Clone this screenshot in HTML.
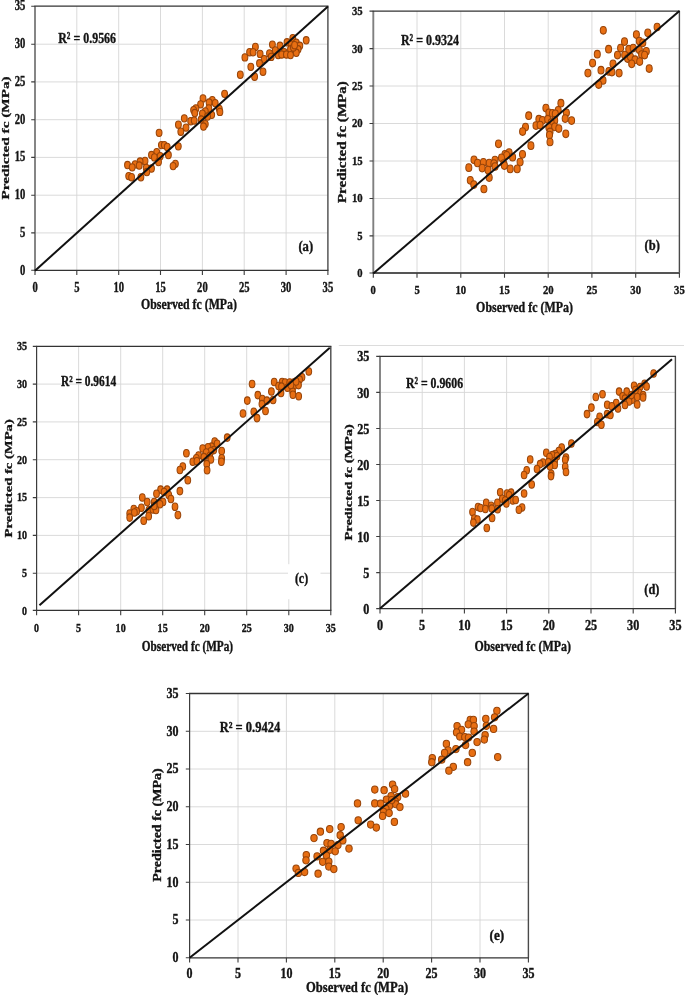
<!DOCTYPE html>
<html><head><meta charset="utf-8"><title>Scatter plots</title>
<style>html,body{margin:0;padding:0;background:#fff}body{width:685px;height:995px;overflow:hidden;font-family:"Liberation Serif",serif}ellipse{fill:#e86f13;stroke:#994408;stroke-width:1.05}text{stroke:#141414;stroke-width:.38px;stroke-linejoin:round}</style></head>
<body>
<svg width="685" height="995" viewBox="0 0 685 995" style="display:block;will-change:transform" font-family="Liberation Serif, serif" font-weight="bold" fill="#141414">
<rect width="685" height="995" fill="#fff"/>
<path d="M338.8 345.5H684" stroke="#dcdcdc" stroke-width="1" fill="none"/>
<g id="plot-a"><path d="M76.8 6.2V270.3M35.0 232.9H327.9M118.7 6.2V270.3M35.0 195.2H327.9M160.5 6.2V270.3M35.0 157.4H327.9M202.4 6.2V270.3M35.0 119.7H327.9M244.2 6.2V270.3M35.0 81.9H327.9M286.1 6.2V270.3M35.0 44.2H327.9" stroke="#d6d6d6" stroke-width="0.9" fill="none"/>
<path d="M35.0 6.2V270.3" stroke="#808080" stroke-width="1.9" fill="none"/>
<path d="M327.9 6.2V270.3" stroke="#4a4a4a" stroke-width="1.4" fill="none"/>
<path d="M34.4 6.2H328.5" stroke="#333" stroke-width="1.3" fill="none"/>
<path d="M34.4 270.3H328.5" stroke="#333" stroke-width="1.3" fill="none"/>
<path d="M35.0 270.3v4.8M35.0 270.3h-3.8M76.8 270.3v4.8M35.0 232.9h-3.8M118.7 270.3v4.8M35.0 195.2h-3.8M160.5 270.3v4.8M35.0 157.4h-3.8M202.4 270.3v4.8M35.0 119.7h-3.8M244.2 270.3v4.8M35.0 81.9h-3.8M286.1 270.3v4.8M35.0 44.2h-3.8M327.9 270.3v4.8M35.0 6.2h-3.8" stroke="#3c3c3c" stroke-width="1.1" fill="none"/>
<text x="32.4" y="291.9" font-size="13.79" textLength="5.3" lengthAdjust="spacingAndGlyphs" text-anchor="start">0</text>
<text x="20.1" y="274.6" font-size="13.79" textLength="5.3" lengthAdjust="spacingAndGlyphs" text-anchor="start">0</text>
<text x="74.2" y="291.9" font-size="13.79" textLength="5.3" lengthAdjust="spacingAndGlyphs" text-anchor="start">5</text>
<text x="20.1" y="236.8" font-size="13.79" textLength="5.3" lengthAdjust="spacingAndGlyphs" text-anchor="start">5</text>
<text x="113.4" y="291.9" font-size="13.79" textLength="10.6" lengthAdjust="spacingAndGlyphs" text-anchor="start">10</text>
<text x="14.8" y="199.0" font-size="13.79" textLength="10.6" lengthAdjust="spacingAndGlyphs" text-anchor="start">10</text>
<text x="155.2" y="291.9" font-size="13.79" textLength="10.6" lengthAdjust="spacingAndGlyphs" text-anchor="start">15</text>
<text x="14.8" y="161.3" font-size="13.79" textLength="10.6" lengthAdjust="spacingAndGlyphs" text-anchor="start">15</text>
<text x="197.1" y="291.9" font-size="13.79" textLength="10.6" lengthAdjust="spacingAndGlyphs" text-anchor="start">20</text>
<text x="14.8" y="123.5" font-size="13.79" textLength="10.6" lengthAdjust="spacingAndGlyphs" text-anchor="start">20</text>
<text x="238.9" y="291.9" font-size="13.79" textLength="10.6" lengthAdjust="spacingAndGlyphs" text-anchor="start">25</text>
<text x="14.8" y="85.8" font-size="13.79" textLength="10.6" lengthAdjust="spacingAndGlyphs" text-anchor="start">25</text>
<text x="280.8" y="291.9" font-size="13.79" textLength="10.6" lengthAdjust="spacingAndGlyphs" text-anchor="start">30</text>
<text x="14.8" y="48.0" font-size="13.79" textLength="10.6" lengthAdjust="spacingAndGlyphs" text-anchor="start">30</text>
<text x="322.6" y="291.9" font-size="13.79" textLength="10.6" lengthAdjust="spacingAndGlyphs" text-anchor="start">35</text>
<text x="14.8" y="10.3" font-size="13.79" textLength="10.6" lengthAdjust="spacingAndGlyphs" text-anchor="start">35</text>
<text x="141.1" y="309.1" font-size="14.5" textLength="95.8" lengthAdjust="spacingAndGlyphs" text-anchor="start">Observed fc (MPa)</text>
<g transform="translate(9.0,199.6) rotate(-90) scale(1,0.72)"><text x="0.0" y="0.0" font-size="15.24" textLength="123.3" lengthAdjust="spacingAndGlyphs" text-anchor="start">Predicted fc (MPa)</text></g>
<text x="58.2" y="42.8" font-size="15.5" textLength="57.9" lengthAdjust="spacingAndGlyphs" text-anchor="start">R² = 0.9566</text>
<text x="298.4" y="250.6" font-size="14.7" textLength="14.7" lengthAdjust="spacingAndGlyphs" text-anchor="start">(a)</text>
<ellipse cx="159.1" cy="132.8" rx="2.9" ry="3.65"/>
<ellipse cx="161.4" cy="145.1" rx="2.9" ry="3.65"/>
<ellipse cx="164.3" cy="145.1" rx="2.9" ry="3.65"/>
<ellipse cx="167.2" cy="146.9" rx="2.9" ry="3.65"/>
<ellipse cx="178.3" cy="146.3" rx="2.9" ry="3.65"/>
<ellipse cx="168.4" cy="155.0" rx="2.9" ry="3.65"/>
<ellipse cx="156.7" cy="152.1" rx="2.9" ry="3.65"/>
<ellipse cx="151.5" cy="155.0" rx="2.9" ry="3.65"/>
<ellipse cx="154.4" cy="157.4" rx="2.9" ry="3.65"/>
<ellipse cx="160.2" cy="156.2" rx="2.9" ry="3.65"/>
<ellipse cx="158.5" cy="162.0" rx="2.9" ry="3.65"/>
<ellipse cx="145.0" cy="160.9" rx="2.9" ry="3.65"/>
<ellipse cx="140.1" cy="161.5" rx="2.9" ry="3.65"/>
<ellipse cx="135.1" cy="164.4" rx="2.9" ry="3.65"/>
<ellipse cx="139.2" cy="165.5" rx="2.9" ry="3.65"/>
<ellipse cx="127.5" cy="165.0" rx="2.9" ry="3.65"/>
<ellipse cx="132.2" cy="167.3" rx="2.9" ry="3.65"/>
<ellipse cx="146.2" cy="167.9" rx="2.9" ry="3.65"/>
<ellipse cx="151.5" cy="168.5" rx="2.9" ry="3.65"/>
<ellipse cx="146.8" cy="172.0" rx="2.9" ry="3.65"/>
<ellipse cx="175.4" cy="163.8" rx="2.9" ry="3.65"/>
<ellipse cx="173.1" cy="166.1" rx="2.9" ry="3.65"/>
<ellipse cx="128.7" cy="176.1" rx="2.9" ry="3.65"/>
<ellipse cx="131.6" cy="177.2" rx="2.9" ry="3.65"/>
<ellipse cx="140.9" cy="177.2" rx="2.9" ry="3.65"/>
<ellipse cx="224.6" cy="93.8" rx="2.9" ry="3.65"/>
<ellipse cx="203.0" cy="98.4" rx="2.9" ry="3.65"/>
<ellipse cx="212.3" cy="100.2" rx="2.9" ry="3.65"/>
<ellipse cx="209.1" cy="102.5" rx="2.9" ry="3.65"/>
<ellipse cx="215.2" cy="103.1" rx="2.9" ry="3.65"/>
<ellipse cx="200.6" cy="104.3" rx="2.9" ry="3.65"/>
<ellipse cx="195.9" cy="108.4" rx="2.9" ry="3.65"/>
<ellipse cx="193.6" cy="110.1" rx="2.9" ry="3.65"/>
<ellipse cx="194.8" cy="113.0" rx="2.9" ry="3.65"/>
<ellipse cx="208.8" cy="108.4" rx="2.9" ry="3.65"/>
<ellipse cx="205.3" cy="111.3" rx="2.9" ry="3.65"/>
<ellipse cx="202.4" cy="113.6" rx="2.9" ry="3.65"/>
<ellipse cx="219.3" cy="108.9" rx="2.9" ry="3.65"/>
<ellipse cx="219.9" cy="111.9" rx="2.9" ry="3.65"/>
<ellipse cx="211.7" cy="114.8" rx="2.9" ry="3.65"/>
<ellipse cx="207.6" cy="116.5" rx="2.9" ry="3.65"/>
<ellipse cx="184.3" cy="118.3" rx="2.9" ry="3.65"/>
<ellipse cx="190.7" cy="121.2" rx="2.9" ry="3.65"/>
<ellipse cx="194.2" cy="120.6" rx="2.9" ry="3.65"/>
<ellipse cx="201.2" cy="119.5" rx="2.9" ry="3.65"/>
<ellipse cx="178.4" cy="124.7" rx="2.9" ry="3.65"/>
<ellipse cx="186.0" cy="127.6" rx="2.9" ry="3.65"/>
<ellipse cx="180.8" cy="131.7" rx="2.9" ry="3.65"/>
<ellipse cx="205.3" cy="124.1" rx="2.9" ry="3.65"/>
<ellipse cx="203.5" cy="126.5" rx="2.9" ry="3.65"/>
<ellipse cx="306.2" cy="40.3" rx="2.9" ry="3.65"/>
<ellipse cx="292.8" cy="38.2" rx="2.9" ry="3.65"/>
<ellipse cx="287.0" cy="42.3" rx="2.9" ry="3.65"/>
<ellipse cx="296.3" cy="42.8" rx="2.9" ry="3.65"/>
<ellipse cx="299.8" cy="45.8" rx="2.9" ry="3.65"/>
<ellipse cx="272.4" cy="44.6" rx="2.9" ry="3.65"/>
<ellipse cx="280.0" cy="45.8" rx="2.9" ry="3.65"/>
<ellipse cx="291.1" cy="44.6" rx="2.9" ry="3.65"/>
<ellipse cx="255.4" cy="46.9" rx="2.9" ry="3.65"/>
<ellipse cx="275.3" cy="50.4" rx="2.9" ry="3.65"/>
<ellipse cx="290.5" cy="49.3" rx="2.9" ry="3.65"/>
<ellipse cx="298.1" cy="49.3" rx="2.9" ry="3.65"/>
<ellipse cx="249.6" cy="52.2" rx="2.9" ry="3.65"/>
<ellipse cx="253.1" cy="52.2" rx="2.9" ry="3.65"/>
<ellipse cx="260.1" cy="53.9" rx="2.9" ry="3.65"/>
<ellipse cx="269.5" cy="53.4" rx="2.9" ry="3.65"/>
<ellipse cx="284.1" cy="52.2" rx="2.9" ry="3.65"/>
<ellipse cx="296.3" cy="52.8" rx="2.9" ry="3.65"/>
<ellipse cx="278.2" cy="55.1" rx="2.9" ry="3.65"/>
<ellipse cx="281.7" cy="54.5" rx="2.9" ry="3.65"/>
<ellipse cx="286.4" cy="54.5" rx="2.9" ry="3.65"/>
<ellipse cx="290.5" cy="55.1" rx="2.9" ry="3.65"/>
<ellipse cx="271.2" cy="56.9" rx="2.9" ry="3.65"/>
<ellipse cx="244.9" cy="57.4" rx="2.9" ry="3.65"/>
<ellipse cx="264.2" cy="59.2" rx="2.9" ry="3.65"/>
<ellipse cx="259.5" cy="63.3" rx="2.9" ry="3.65"/>
<ellipse cx="250.8" cy="66.8" rx="2.9" ry="3.65"/>
<ellipse cx="263.0" cy="71.7" rx="2.9" ry="3.65"/>
<ellipse cx="240.3" cy="74.7" rx="2.9" ry="3.65"/>
<ellipse cx="254.6" cy="76.7" rx="2.9" ry="3.65"/>
<ellipse cx="293.4" cy="47.5" rx="2.9" ry="3.65"/>
<ellipse cx="294.6" cy="45.2" rx="2.9" ry="3.65"/>
<path d="M35.0 270.7L327.9 6.4" stroke="#111" stroke-width="2" fill="none"/></g>
<g id="plot-b"><path d="M417.0 11.1V273.0M373.3 235.9H679.4M460.8 11.1V273.0M373.3 198.5H679.4M504.5 11.1V273.0M373.3 161.0H679.4M548.2 11.1V273.0M373.3 123.5H679.4M591.9 11.1V273.0M373.3 86.0H679.4M635.7 11.1V273.0M373.3 48.6H679.4" stroke="#d6d6d6" stroke-width="0.9" fill="none"/>
<path d="M373.3 11.1V273.0" stroke="#808080" stroke-width="1.9" fill="none"/>
<path d="M679.4 11.1V273.0" stroke="#4a4a4a" stroke-width="1.4" fill="none"/>
<path d="M372.7 11.1H680.0" stroke="#333" stroke-width="1.3" fill="none"/>
<path d="M372.7 273.0H680.0" stroke="#555" stroke-width="2.0" fill="none"/>
<path d="M373.3 273.0v4.8M373.3 273.0h-3.8M417.0 273.0v4.8M373.3 235.9h-3.8M460.8 273.0v4.8M373.3 198.5h-3.8M504.5 273.0v4.8M373.3 161.0h-3.8M548.2 273.0v4.8M373.3 123.5h-3.8M591.9 273.0v4.8M373.3 86.0h-3.8M635.7 273.0v4.8M373.3 48.6h-3.8M679.4 273.0v4.8M373.3 11.1h-3.8" stroke="#3c3c3c" stroke-width="1.1" fill="none"/>
<text x="370.6" y="294.4" font-size="13.3" textLength="5.3" lengthAdjust="spacingAndGlyphs" text-anchor="start">0</text>
<text x="357.2" y="277.3" font-size="13.3" textLength="5.3" lengthAdjust="spacingAndGlyphs" text-anchor="start">0</text>
<text x="414.4" y="294.4" font-size="13.3" textLength="5.3" lengthAdjust="spacingAndGlyphs" text-anchor="start">5</text>
<text x="357.2" y="239.8" font-size="13.3" textLength="5.3" lengthAdjust="spacingAndGlyphs" text-anchor="start">5</text>
<text x="455.4" y="294.4" font-size="13.3" textLength="10.7" lengthAdjust="spacingAndGlyphs" text-anchor="start">10</text>
<text x="351.9" y="202.3" font-size="13.3" textLength="10.7" lengthAdjust="spacingAndGlyphs" text-anchor="start">10</text>
<text x="499.1" y="294.4" font-size="13.3" textLength="10.7" lengthAdjust="spacingAndGlyphs" text-anchor="start">15</text>
<text x="351.9" y="164.9" font-size="13.3" textLength="10.7" lengthAdjust="spacingAndGlyphs" text-anchor="start">15</text>
<text x="542.9" y="294.4" font-size="13.3" textLength="10.7" lengthAdjust="spacingAndGlyphs" text-anchor="start">20</text>
<text x="351.9" y="127.4" font-size="13.3" textLength="10.7" lengthAdjust="spacingAndGlyphs" text-anchor="start">20</text>
<text x="586.6" y="294.4" font-size="13.3" textLength="10.7" lengthAdjust="spacingAndGlyphs" text-anchor="start">25</text>
<text x="351.9" y="89.9" font-size="13.3" textLength="10.7" lengthAdjust="spacingAndGlyphs" text-anchor="start">25</text>
<text x="630.3" y="294.4" font-size="13.3" textLength="10.7" lengthAdjust="spacingAndGlyphs" text-anchor="start">30</text>
<text x="351.9" y="52.5" font-size="13.3" textLength="10.7" lengthAdjust="spacingAndGlyphs" text-anchor="start">30</text>
<text x="674.1" y="294.4" font-size="13.3" textLength="10.7" lengthAdjust="spacingAndGlyphs" text-anchor="start">35</text>
<text x="351.9" y="15.0" font-size="13.3" textLength="10.7" lengthAdjust="spacingAndGlyphs" text-anchor="start">35</text>
<text x="476.1" y="311.8" font-size="14.5" textLength="96.8" lengthAdjust="spacingAndGlyphs" text-anchor="start">Observed fc (MPa)</text>
<g transform="translate(346.2,203.1) rotate(-90) scale(1,0.79)"><text x="0.0" y="0.0" font-size="15.08" textLength="122.0" lengthAdjust="spacingAndGlyphs" text-anchor="start">Predicted fc (MPa)</text></g>
<text x="400.9" y="44.9" font-size="15.5" textLength="58.1" lengthAdjust="spacingAndGlyphs" text-anchor="start">R² = 0.9324</text>
<text x="644.6" y="249.7" font-size="14.7" textLength="15.3" lengthAdjust="spacingAndGlyphs" text-anchor="start">(b)</text>
<ellipse cx="498.5" cy="143.8" rx="3.0" ry="3.85"/>
<ellipse cx="530.9" cy="145.7" rx="3.0" ry="3.85"/>
<ellipse cx="522.5" cy="154.3" rx="3.0" ry="3.85"/>
<ellipse cx="509.1" cy="152.5" rx="3.0" ry="3.85"/>
<ellipse cx="505.0" cy="154.3" rx="3.0" ry="3.85"/>
<ellipse cx="506.7" cy="155.4" rx="3.0" ry="3.85"/>
<ellipse cx="512.6" cy="157.2" rx="3.0" ry="3.85"/>
<ellipse cx="501.5" cy="157.8" rx="3.0" ry="3.85"/>
<ellipse cx="474.0" cy="159.8" rx="3.0" ry="3.85"/>
<ellipse cx="495.0" cy="160.1" rx="3.0" ry="3.85"/>
<ellipse cx="477.5" cy="163.0" rx="3.0" ry="3.85"/>
<ellipse cx="483.4" cy="162.4" rx="3.0" ry="3.85"/>
<ellipse cx="489.2" cy="163.0" rx="3.0" ry="3.85"/>
<ellipse cx="493.9" cy="163.6" rx="3.0" ry="3.85"/>
<ellipse cx="520.1" cy="162.1" rx="3.0" ry="3.85"/>
<ellipse cx="503.8" cy="163.6" rx="3.0" ry="3.85"/>
<ellipse cx="504.4" cy="165.6" rx="3.0" ry="3.85"/>
<ellipse cx="468.8" cy="167.7" rx="3.0" ry="3.85"/>
<ellipse cx="482.2" cy="168.1" rx="3.0" ry="3.85"/>
<ellipse cx="488.0" cy="170.0" rx="3.0" ry="3.85"/>
<ellipse cx="495.0" cy="166.5" rx="3.0" ry="3.85"/>
<ellipse cx="510.2" cy="168.9" rx="3.0" ry="3.85"/>
<ellipse cx="517.2" cy="168.9" rx="3.0" ry="3.85"/>
<ellipse cx="489.2" cy="177.6" rx="3.0" ry="3.85"/>
<ellipse cx="470.3" cy="180.3" rx="3.0" ry="3.85"/>
<ellipse cx="473.8" cy="184.6" rx="3.0" ry="3.85"/>
<ellipse cx="483.9" cy="189.0" rx="3.0" ry="3.85"/>
<ellipse cx="560.9" cy="103.2" rx="3.0" ry="3.85"/>
<ellipse cx="545.9" cy="108.1" rx="3.0" ry="3.85"/>
<ellipse cx="558.2" cy="110.4" rx="3.0" ry="3.85"/>
<ellipse cx="548.9" cy="112.8" rx="3.0" ry="3.85"/>
<ellipse cx="552.4" cy="113.4" rx="3.0" ry="3.85"/>
<ellipse cx="555.3" cy="113.9" rx="3.0" ry="3.85"/>
<ellipse cx="566.4" cy="112.8" rx="3.0" ry="3.85"/>
<ellipse cx="528.7" cy="115.7" rx="3.0" ry="3.85"/>
<ellipse cx="565.2" cy="118.6" rx="3.0" ry="3.85"/>
<ellipse cx="571.6" cy="120.6" rx="3.0" ry="3.85"/>
<ellipse cx="538.9" cy="119.2" rx="3.0" ry="3.85"/>
<ellipse cx="542.4" cy="120.4" rx="3.0" ry="3.85"/>
<ellipse cx="547.7" cy="119.2" rx="3.0" ry="3.85"/>
<ellipse cx="554.7" cy="120.4" rx="3.0" ry="3.85"/>
<ellipse cx="551.2" cy="122.7" rx="3.0" ry="3.85"/>
<ellipse cx="525.5" cy="127.1" rx="3.0" ry="3.85"/>
<ellipse cx="536.0" cy="125.6" rx="3.0" ry="3.85"/>
<ellipse cx="540.1" cy="125.0" rx="3.0" ry="3.85"/>
<ellipse cx="548.9" cy="127.4" rx="3.0" ry="3.85"/>
<ellipse cx="554.7" cy="126.8" rx="3.0" ry="3.85"/>
<ellipse cx="558.8" cy="128.5" rx="3.0" ry="3.85"/>
<ellipse cx="522.6" cy="131.5" rx="3.0" ry="3.85"/>
<ellipse cx="550.0" cy="132.0" rx="3.0" ry="3.85"/>
<ellipse cx="549.5" cy="135.0" rx="3.0" ry="3.85"/>
<ellipse cx="565.8" cy="133.8" rx="3.0" ry="3.85"/>
<ellipse cx="550.0" cy="142.0" rx="3.0" ry="3.85"/>
<ellipse cx="603.3" cy="30.3" rx="3.0" ry="3.85"/>
<ellipse cx="657.1" cy="27.0" rx="3.0" ry="3.85"/>
<ellipse cx="647.8" cy="32.8" rx="3.0" ry="3.85"/>
<ellipse cx="636.4" cy="34.6" rx="3.0" ry="3.85"/>
<ellipse cx="624.5" cy="41.6" rx="3.0" ry="3.85"/>
<ellipse cx="639.3" cy="41.0" rx="3.0" ry="3.85"/>
<ellipse cx="642.8" cy="42.8" rx="3.0" ry="3.85"/>
<ellipse cx="608.6" cy="49.2" rx="3.0" ry="3.85"/>
<ellipse cx="620.6" cy="48.0" rx="3.0" ry="3.85"/>
<ellipse cx="628.8" cy="49.2" rx="3.0" ry="3.85"/>
<ellipse cx="633.2" cy="48.0" rx="3.0" ry="3.85"/>
<ellipse cx="639.3" cy="49.8" rx="3.0" ry="3.85"/>
<ellipse cx="646.3" cy="51.3" rx="3.0" ry="3.85"/>
<ellipse cx="597.3" cy="54.2" rx="3.0" ry="3.85"/>
<ellipse cx="617.5" cy="55.0" rx="3.0" ry="3.85"/>
<ellipse cx="624.7" cy="55.0" rx="3.0" ry="3.85"/>
<ellipse cx="641.6" cy="54.5" rx="3.0" ry="3.85"/>
<ellipse cx="644.6" cy="55.0" rx="3.0" ry="3.85"/>
<ellipse cx="627.6" cy="58.5" rx="3.0" ry="3.85"/>
<ellipse cx="630.5" cy="56.8" rx="3.0" ry="3.85"/>
<ellipse cx="635.0" cy="59.7" rx="3.0" ry="3.85"/>
<ellipse cx="639.7" cy="61.5" rx="3.0" ry="3.85"/>
<ellipse cx="631.7" cy="63.8" rx="3.0" ry="3.85"/>
<ellipse cx="592.6" cy="63.0" rx="3.0" ry="3.85"/>
<ellipse cx="613.0" cy="63.8" rx="3.0" ry="3.85"/>
<ellipse cx="649.2" cy="68.5" rx="3.0" ry="3.85"/>
<ellipse cx="601.0" cy="70.2" rx="3.0" ry="3.85"/>
<ellipse cx="608.9" cy="71.4" rx="3.0" ry="3.85"/>
<ellipse cx="611.9" cy="72.0" rx="3.0" ry="3.85"/>
<ellipse cx="619.1" cy="73.1" rx="3.0" ry="3.85"/>
<ellipse cx="587.9" cy="73.1" rx="3.0" ry="3.85"/>
<ellipse cx="603.0" cy="80.4" rx="3.0" ry="3.85"/>
<ellipse cx="598.7" cy="84.5" rx="3.0" ry="3.85"/>
<path d="M373.3 273.4L679.4 11.1" stroke="#111" stroke-width="2" fill="none"/></g>
<g id="plot-c"><path d="M78.6 346.4V610.4M36.6 573.2H330.8M120.7 346.4V610.4M36.6 535.4H330.8M162.7 346.4V610.4M36.6 497.6H330.8M204.7 346.4V610.4M36.6 459.7H330.8M246.7 346.4V610.4M36.6 421.9H330.8M288.8 346.4V610.4M36.6 384.1H330.8" stroke="#d6d6d6" stroke-width="0.9" fill="none"/>
<rect x="288" y="564.2" width="32.5" height="35" fill="#fff"/>
<path d="M36.6 346.4V610.4" stroke="#3c3c3c" stroke-width="1.2" fill="none"/>
<path d="M330.8 346.4V610.4" stroke="#4a4a4a" stroke-width="1.4" fill="none"/>
<path d="M36.0 346.4H331.4" stroke="#333" stroke-width="1.3" fill="none"/>
<path d="M36.0 610.4H331.4" stroke="#333" stroke-width="1.3" fill="none"/>
<path d="M36.6 610.4v4.8M36.6 610.4h-3.8M78.6 610.4v4.8M36.6 573.2h-3.8M120.7 610.4v4.8M36.6 535.4h-3.8M162.7 610.4v4.8M36.6 497.6h-3.8M204.7 610.4v4.8M36.6 459.7h-3.8M246.7 610.4v4.8M36.6 421.9h-3.8M288.8 610.4v4.8M36.6 384.1h-3.8M330.8 610.4v4.8M36.6 346.4h-3.8" stroke="#3c3c3c" stroke-width="1.1" fill="none"/>
<text x="34.1" y="631.6" font-size="12.9" textLength="5.0" lengthAdjust="spacingAndGlyphs" text-anchor="start">0</text>
<text x="21.9" y="614.8" font-size="12.9" textLength="5.0" lengthAdjust="spacingAndGlyphs" text-anchor="start">0</text>
<text x="76.1" y="631.6" font-size="12.9" textLength="5.0" lengthAdjust="spacingAndGlyphs" text-anchor="start">5</text>
<text x="21.9" y="576.9" font-size="12.9" textLength="5.0" lengthAdjust="spacingAndGlyphs" text-anchor="start">5</text>
<text x="115.6" y="631.6" font-size="12.9" textLength="10.1" lengthAdjust="spacingAndGlyphs" text-anchor="start">10</text>
<text x="16.9" y="539.1" font-size="12.9" textLength="10.1" lengthAdjust="spacingAndGlyphs" text-anchor="start">10</text>
<text x="157.6" y="631.6" font-size="12.9" textLength="10.1" lengthAdjust="spacingAndGlyphs" text-anchor="start">15</text>
<text x="16.9" y="501.3" font-size="12.9" textLength="10.1" lengthAdjust="spacingAndGlyphs" text-anchor="start">15</text>
<text x="199.7" y="631.6" font-size="12.9" textLength="10.1" lengthAdjust="spacingAndGlyphs" text-anchor="start">20</text>
<text x="16.9" y="463.5" font-size="12.9" textLength="10.1" lengthAdjust="spacingAndGlyphs" text-anchor="start">20</text>
<text x="241.7" y="631.6" font-size="12.9" textLength="10.1" lengthAdjust="spacingAndGlyphs" text-anchor="start">25</text>
<text x="16.9" y="425.7" font-size="12.9" textLength="10.1" lengthAdjust="spacingAndGlyphs" text-anchor="start">25</text>
<text x="283.7" y="631.6" font-size="12.9" textLength="10.1" lengthAdjust="spacingAndGlyphs" text-anchor="start">30</text>
<text x="16.9" y="387.9" font-size="12.9" textLength="10.1" lengthAdjust="spacingAndGlyphs" text-anchor="start">30</text>
<text x="325.8" y="631.6" font-size="12.9" textLength="10.1" lengthAdjust="spacingAndGlyphs" text-anchor="start">35</text>
<text x="16.9" y="350.1" font-size="12.9" textLength="10.1" lengthAdjust="spacingAndGlyphs" text-anchor="start">35</text>
<text x="141.8" y="650.9" font-size="13.73" textLength="91.3" lengthAdjust="spacingAndGlyphs" text-anchor="start">Observed fc (MPa)</text>
<g transform="translate(11.6,537.5) rotate(-90) scale(1,0.75)"><text x="0.0" y="0.0" font-size="14.62" textLength="118.3" lengthAdjust="spacingAndGlyphs" text-anchor="start">Predicted fc (MPa)</text></g>
<text x="60.9" y="386.4" font-size="14.99" textLength="55.3" lengthAdjust="spacingAndGlyphs" text-anchor="start">R² = 0.9614</text>
<text x="294.9" y="582.8" font-size="14.01" textLength="13.2" lengthAdjust="spacingAndGlyphs" text-anchor="start">(c)</text>
<ellipse cx="187.8" cy="480.3" rx="2.85" ry="3.75"/>
<ellipse cx="179.9" cy="491.1" rx="2.85" ry="3.75"/>
<ellipse cx="160.6" cy="489.6" rx="2.85" ry="3.75"/>
<ellipse cx="167.1" cy="489.6" rx="2.85" ry="3.75"/>
<ellipse cx="164.1" cy="491.9" rx="2.85" ry="3.75"/>
<ellipse cx="156.5" cy="493.7" rx="2.85" ry="3.75"/>
<ellipse cx="168.8" cy="494.9" rx="2.85" ry="3.75"/>
<ellipse cx="170.9" cy="498.9" rx="2.85" ry="3.75"/>
<ellipse cx="142.3" cy="497.4" rx="2.85" ry="3.75"/>
<ellipse cx="147.2" cy="501.9" rx="2.85" ry="3.75"/>
<ellipse cx="154.2" cy="501.9" rx="2.85" ry="3.75"/>
<ellipse cx="163.0" cy="501.9" rx="2.85" ry="3.75"/>
<ellipse cx="160.0" cy="504.2" rx="2.85" ry="3.75"/>
<ellipse cx="175.0" cy="506.8" rx="2.85" ry="3.75"/>
<ellipse cx="141.4" cy="507.7" rx="2.85" ry="3.75"/>
<ellipse cx="133.8" cy="508.9" rx="2.85" ry="3.75"/>
<ellipse cx="136.7" cy="511.2" rx="2.85" ry="3.75"/>
<ellipse cx="148.9" cy="510.0" rx="2.85" ry="3.75"/>
<ellipse cx="153.0" cy="509.5" rx="2.85" ry="3.75"/>
<ellipse cx="156.0" cy="510.0" rx="2.85" ry="3.75"/>
<ellipse cx="129.7" cy="513.5" rx="2.85" ry="3.75"/>
<ellipse cx="134.4" cy="512.4" rx="2.85" ry="3.75"/>
<ellipse cx="129.7" cy="517.6" rx="2.85" ry="3.75"/>
<ellipse cx="148.7" cy="516.2" rx="2.85" ry="3.75"/>
<ellipse cx="177.9" cy="515.1" rx="2.85" ry="3.75"/>
<ellipse cx="143.7" cy="520.8" rx="2.85" ry="3.75"/>
<ellipse cx="154.2" cy="505.9" rx="2.85" ry="3.75"/>
<ellipse cx="227.2" cy="437.6" rx="2.85" ry="3.75"/>
<ellipse cx="214.7" cy="441.4" rx="2.85" ry="3.75"/>
<ellipse cx="217.1" cy="443.7" rx="2.85" ry="3.75"/>
<ellipse cx="211.5" cy="446.6" rx="2.85" ry="3.75"/>
<ellipse cx="208.0" cy="447.2" rx="2.85" ry="3.75"/>
<ellipse cx="202.7" cy="448.4" rx="2.85" ry="3.75"/>
<ellipse cx="213.8" cy="450.1" rx="2.85" ry="3.75"/>
<ellipse cx="210.9" cy="451.3" rx="2.85" ry="3.75"/>
<ellipse cx="221.7" cy="450.9" rx="2.85" ry="3.75"/>
<ellipse cx="186.4" cy="453.3" rx="2.85" ry="3.75"/>
<ellipse cx="206.2" cy="452.4" rx="2.85" ry="3.75"/>
<ellipse cx="198.6" cy="455.4" rx="2.85" ry="3.75"/>
<ellipse cx="196.3" cy="458.3" rx="2.85" ry="3.75"/>
<ellipse cx="203.9" cy="457.1" rx="2.85" ry="3.75"/>
<ellipse cx="209.7" cy="455.9" rx="2.85" ry="3.75"/>
<ellipse cx="221.7" cy="458.3" rx="2.85" ry="3.75"/>
<ellipse cx="192.8" cy="461.8" rx="2.85" ry="3.75"/>
<ellipse cx="210.9" cy="459.5" rx="2.85" ry="3.75"/>
<ellipse cx="221.4" cy="461.8" rx="2.85" ry="3.75"/>
<ellipse cx="206.8" cy="464.1" rx="2.85" ry="3.75"/>
<ellipse cx="182.8" cy="466.5" rx="2.85" ry="3.75"/>
<ellipse cx="179.9" cy="470.0" rx="2.85" ry="3.75"/>
<ellipse cx="207.1" cy="470.3" rx="2.85" ry="3.75"/>
<ellipse cx="196.9" cy="461.2" rx="2.85" ry="3.75"/>
<ellipse cx="308.8" cy="371.4" rx="2.85" ry="3.75"/>
<ellipse cx="302.0" cy="377.3" rx="2.85" ry="3.75"/>
<ellipse cx="299.6" cy="379.6" rx="2.85" ry="3.75"/>
<ellipse cx="274.2" cy="381.9" rx="2.85" ry="3.75"/>
<ellipse cx="282.1" cy="381.9" rx="2.85" ry="3.75"/>
<ellipse cx="285.1" cy="382.5" rx="2.85" ry="3.75"/>
<ellipse cx="289.7" cy="382.5" rx="2.85" ry="3.75"/>
<ellipse cx="293.8" cy="382.5" rx="2.85" ry="3.75"/>
<ellipse cx="252.1" cy="384.0" rx="2.85" ry="3.75"/>
<ellipse cx="278.6" cy="386.0" rx="2.85" ry="3.75"/>
<ellipse cx="281.5" cy="386.6" rx="2.85" ry="3.75"/>
<ellipse cx="287.4" cy="387.8" rx="2.85" ry="3.75"/>
<ellipse cx="293.8" cy="386.0" rx="2.85" ry="3.75"/>
<ellipse cx="298.5" cy="385.1" rx="2.85" ry="3.75"/>
<ellipse cx="271.4" cy="391.5" rx="2.85" ry="3.75"/>
<ellipse cx="281.0" cy="393.0" rx="2.85" ry="3.75"/>
<ellipse cx="292.6" cy="391.6" rx="2.85" ry="3.75"/>
<ellipse cx="292.9" cy="394.8" rx="2.85" ry="3.75"/>
<ellipse cx="298.7" cy="396.3" rx="2.85" ry="3.75"/>
<ellipse cx="257.8" cy="395.1" rx="2.85" ry="3.75"/>
<ellipse cx="262.3" cy="398.9" rx="2.85" ry="3.75"/>
<ellipse cx="266.9" cy="400.6" rx="2.85" ry="3.75"/>
<ellipse cx="273.1" cy="400.0" rx="2.85" ry="3.75"/>
<ellipse cx="247.3" cy="400.6" rx="2.85" ry="3.75"/>
<ellipse cx="261.9" cy="404.1" rx="2.85" ry="3.75"/>
<ellipse cx="265.5" cy="410.9" rx="2.85" ry="3.75"/>
<ellipse cx="253.8" cy="411.7" rx="2.85" ry="3.75"/>
<ellipse cx="243.0" cy="413.5" rx="2.85" ry="3.75"/>
<ellipse cx="257.0" cy="418.1" rx="2.85" ry="3.75"/>
<ellipse cx="296.1" cy="381.4" rx="2.85" ry="3.75"/>
<ellipse cx="290.9" cy="384.9" rx="2.85" ry="3.75"/>
<path d="M39.5 605.3L329.8 347.8" stroke="#111" stroke-width="2" fill="none"/></g>
<g id="plot-d"><path d="M422.2 356.4V608.6M380.0 572.6H675.4M464.4 356.4V608.6M380.0 536.5H675.4M506.6 356.4V608.6M380.0 500.5H675.4M548.8 356.4V608.6M380.0 464.5H675.4M591.0 356.4V608.6M380.0 428.5H675.4M633.2 356.4V608.6M380.0 392.4H675.4" stroke="#d6d6d6" stroke-width="0.9" fill="none"/>
<path d="M380.0 356.4V608.6" stroke="#808080" stroke-width="1.9" fill="none"/>
<path d="M675.4 356.4V608.6" stroke="#4a4a4a" stroke-width="1.4" fill="none"/>
<path d="M379.4 356.4H676.0" stroke="#333" stroke-width="1.3" fill="none"/>
<path d="M379.4 608.6H676.0" stroke="#333" stroke-width="1.3" fill="none"/>
<path d="M380.0 608.6v4.8M380.0 608.6h-3.8M422.2 608.6v4.8M380.0 572.6h-3.8M464.4 608.6v4.8M380.0 536.5h-3.8M506.6 608.6v4.8M380.0 500.5h-3.8M548.8 608.6v4.8M380.0 464.5h-3.8M591.0 608.6v4.8M380.0 428.5h-3.8M633.2 608.6v4.8M380.0 392.4h-3.8M675.4 608.6v4.8M380.0 356.4h-3.8" stroke="#3c3c3c" stroke-width="1.1" fill="none"/>
<text x="376.9" y="630.1" font-size="14.09" textLength="6.1" lengthAdjust="spacingAndGlyphs" text-anchor="start">0</text>
<text x="363.3" y="613.6" font-size="14.09" textLength="6.1" lengthAdjust="spacingAndGlyphs" text-anchor="start">0</text>
<text x="419.1" y="630.1" font-size="14.09" textLength="6.1" lengthAdjust="spacingAndGlyphs" text-anchor="start">5</text>
<text x="363.3" y="577.6" font-size="14.09" textLength="6.1" lengthAdjust="spacingAndGlyphs" text-anchor="start">5</text>
<text x="458.3" y="630.1" font-size="14.09" textLength="12.2" lengthAdjust="spacingAndGlyphs" text-anchor="start">10</text>
<text x="357.2" y="541.6" font-size="14.09" textLength="12.2" lengthAdjust="spacingAndGlyphs" text-anchor="start">10</text>
<text x="500.5" y="630.1" font-size="14.09" textLength="12.2" lengthAdjust="spacingAndGlyphs" text-anchor="start">15</text>
<text x="357.2" y="505.6" font-size="14.09" textLength="12.2" lengthAdjust="spacingAndGlyphs" text-anchor="start">15</text>
<text x="542.7" y="630.1" font-size="14.09" textLength="12.2" lengthAdjust="spacingAndGlyphs" text-anchor="start">20</text>
<text x="357.2" y="469.5" font-size="14.09" textLength="12.2" lengthAdjust="spacingAndGlyphs" text-anchor="start">20</text>
<text x="584.9" y="630.1" font-size="14.09" textLength="12.2" lengthAdjust="spacingAndGlyphs" text-anchor="start">25</text>
<text x="357.2" y="433.5" font-size="14.09" textLength="12.2" lengthAdjust="spacingAndGlyphs" text-anchor="start">25</text>
<text x="627.1" y="630.1" font-size="14.09" textLength="12.2" lengthAdjust="spacingAndGlyphs" text-anchor="start">30</text>
<text x="357.2" y="397.5" font-size="14.09" textLength="12.2" lengthAdjust="spacingAndGlyphs" text-anchor="start">30</text>
<text x="669.3" y="630.1" font-size="14.09" textLength="12.2" lengthAdjust="spacingAndGlyphs" text-anchor="start">35</text>
<text x="357.2" y="361.4" font-size="14.09" textLength="12.2" lengthAdjust="spacingAndGlyphs" text-anchor="start">35</text>
<text x="474.5" y="651.0" font-size="13.73" textLength="96.4" lengthAdjust="spacingAndGlyphs" text-anchor="start">Observed fc (MPa)</text>
<g transform="translate(351.6,540.4) rotate(-90) scale(1,0.76)"><text x="0.0" y="0.0" font-size="14.37" textLength="116.2" lengthAdjust="spacingAndGlyphs" text-anchor="start">Predicted fc (MPa)</text></g>
<text x="405.9" y="388.2" font-size="15.3" textLength="57.2" lengthAdjust="spacingAndGlyphs" text-anchor="start">R² = 0.9606</text>
<text x="644.3" y="593.7" font-size="14.5" textLength="15.1" lengthAdjust="spacingAndGlyphs" text-anchor="start">(d)</text>
<ellipse cx="531.7" cy="484.4" rx="2.8" ry="3.75"/>
<ellipse cx="524.1" cy="493.4" rx="2.8" ry="3.75"/>
<ellipse cx="500.2" cy="492.3" rx="2.8" ry="3.75"/>
<ellipse cx="507.0" cy="493.4" rx="2.8" ry="3.75"/>
<ellipse cx="511.1" cy="492.6" rx="2.8" ry="3.75"/>
<ellipse cx="509.1" cy="495.2" rx="2.8" ry="3.75"/>
<ellipse cx="502.3" cy="498.7" rx="2.8" ry="3.75"/>
<ellipse cx="505.2" cy="500.4" rx="2.8" ry="3.75"/>
<ellipse cx="512.8" cy="500.4" rx="2.8" ry="3.75"/>
<ellipse cx="515.7" cy="499.9" rx="2.8" ry="3.75"/>
<ellipse cx="486.2" cy="502.8" rx="2.8" ry="3.75"/>
<ellipse cx="497.4" cy="502.8" rx="2.8" ry="3.75"/>
<ellipse cx="506.4" cy="503.4" rx="2.8" ry="3.75"/>
<ellipse cx="491.2" cy="505.7" rx="2.8" ry="3.75"/>
<ellipse cx="478.0" cy="506.9" rx="2.8" ry="3.75"/>
<ellipse cx="480.5" cy="508.0" rx="2.8" ry="3.75"/>
<ellipse cx="485.4" cy="509.0" rx="2.8" ry="3.75"/>
<ellipse cx="491.8" cy="508.6" rx="2.8" ry="3.75"/>
<ellipse cx="497.6" cy="509.2" rx="2.8" ry="3.75"/>
<ellipse cx="522.1" cy="507.4" rx="2.8" ry="3.75"/>
<ellipse cx="518.9" cy="509.8" rx="2.8" ry="3.75"/>
<ellipse cx="472.5" cy="512.1" rx="2.8" ry="3.75"/>
<ellipse cx="492.1" cy="518.0" rx="2.8" ry="3.75"/>
<ellipse cx="474.3" cy="518.5" rx="2.8" ry="3.75"/>
<ellipse cx="477.4" cy="519.5" rx="2.8" ry="3.75"/>
<ellipse cx="473.4" cy="522.6" rx="2.8" ry="3.75"/>
<ellipse cx="486.8" cy="527.9" rx="2.8" ry="3.75"/>
<ellipse cx="571.4" cy="443.4" rx="2.8" ry="3.75"/>
<ellipse cx="561.7" cy="447.5" rx="2.8" ry="3.75"/>
<ellipse cx="558.8" cy="451.0" rx="2.8" ry="3.75"/>
<ellipse cx="555.3" cy="453.9" rx="2.8" ry="3.75"/>
<ellipse cx="546.3" cy="452.8" rx="2.8" ry="3.75"/>
<ellipse cx="552.4" cy="455.1" rx="2.8" ry="3.75"/>
<ellipse cx="549.5" cy="456.9" rx="2.8" ry="3.75"/>
<ellipse cx="557.0" cy="456.3" rx="2.8" ry="3.75"/>
<ellipse cx="566.0" cy="457.4" rx="2.8" ry="3.75"/>
<ellipse cx="530.2" cy="459.5" rx="2.8" ry="3.75"/>
<ellipse cx="565.2" cy="459.8" rx="2.8" ry="3.75"/>
<ellipse cx="543.0" cy="462.5" rx="2.8" ry="3.75"/>
<ellipse cx="540.1" cy="464.1" rx="2.8" ry="3.75"/>
<ellipse cx="548.3" cy="462.1" rx="2.8" ry="3.75"/>
<ellipse cx="554.7" cy="460.9" rx="2.8" ry="3.75"/>
<ellipse cx="554.7" cy="465.0" rx="2.8" ry="3.75"/>
<ellipse cx="550.0" cy="466.2" rx="2.8" ry="3.75"/>
<ellipse cx="565.2" cy="466.8" rx="2.8" ry="3.75"/>
<ellipse cx="537.0" cy="468.9" rx="2.8" ry="3.75"/>
<ellipse cx="526.7" cy="470.3" rx="2.8" ry="3.75"/>
<ellipse cx="566.0" cy="472.0" rx="2.8" ry="3.75"/>
<ellipse cx="524.1" cy="475.0" rx="2.8" ry="3.75"/>
<ellipse cx="551.2" cy="473.8" rx="2.8" ry="3.75"/>
<ellipse cx="551.0" cy="476.1" rx="2.8" ry="3.75"/>
<ellipse cx="653.6" cy="373.5" rx="2.8" ry="3.75"/>
<ellipse cx="644.6" cy="383.8" rx="2.8" ry="3.75"/>
<ellipse cx="634.1" cy="385.8" rx="2.8" ry="3.75"/>
<ellipse cx="640.1" cy="386.9" rx="2.8" ry="3.75"/>
<ellipse cx="646.6" cy="386.4" rx="2.8" ry="3.75"/>
<ellipse cx="619.1" cy="391.6" rx="2.8" ry="3.75"/>
<ellipse cx="626.7" cy="391.6" rx="2.8" ry="3.75"/>
<ellipse cx="602.5" cy="394.3" rx="2.8" ry="3.75"/>
<ellipse cx="639.0" cy="392.8" rx="2.8" ry="3.75"/>
<ellipse cx="643.1" cy="395.1" rx="2.8" ry="3.75"/>
<ellipse cx="595.8" cy="396.9" rx="2.8" ry="3.75"/>
<ellipse cx="622.6" cy="396.3" rx="2.8" ry="3.75"/>
<ellipse cx="625.0" cy="398.6" rx="2.8" ry="3.75"/>
<ellipse cx="637.2" cy="396.9" rx="2.8" ry="3.75"/>
<ellipse cx="643.1" cy="397.4" rx="2.8" ry="3.75"/>
<ellipse cx="632.0" cy="399.8" rx="2.8" ry="3.75"/>
<ellipse cx="629.1" cy="401.5" rx="2.8" ry="3.75"/>
<ellipse cx="616.2" cy="402.9" rx="2.8" ry="3.75"/>
<ellipse cx="607.2" cy="404.8" rx="2.8" ry="3.75"/>
<ellipse cx="611.8" cy="406.2" rx="2.8" ry="3.75"/>
<ellipse cx="625.0" cy="405.0" rx="2.8" ry="3.75"/>
<ellipse cx="637.2" cy="404.5" rx="2.8" ry="3.75"/>
<ellipse cx="591.4" cy="407.6" rx="2.8" ry="3.75"/>
<ellipse cx="618.0" cy="408.5" rx="2.8" ry="3.75"/>
<ellipse cx="587.0" cy="414.1" rx="2.8" ry="3.75"/>
<ellipse cx="607.1" cy="414.1" rx="2.8" ry="3.75"/>
<ellipse cx="610.4" cy="415.0" rx="2.8" ry="3.75"/>
<ellipse cx="599.6" cy="416.7" rx="2.8" ry="3.75"/>
<ellipse cx="597.3" cy="422.0" rx="2.8" ry="3.75"/>
<ellipse cx="601.4" cy="424.7" rx="2.8" ry="3.75"/>
<ellipse cx="635.5" cy="389.9" rx="2.8" ry="3.75"/>
<ellipse cx="631.4" cy="395.1" rx="2.8" ry="3.75"/>
<path d="M380.0 608.6L672.0 359.3" stroke="#111" stroke-width="2" fill="none"/></g>
<g id="plot-e"><path d="M238.0 693.5V957.8M189.6 920.0H528.4M286.4 693.5V957.8M189.6 882.3H528.4M334.8 693.5V957.8M189.6 844.5H528.4M383.2 693.5V957.8M189.6 806.8H528.4M431.6 693.5V957.8M189.6 769.0H528.4M480.0 693.5V957.8M189.6 731.3H528.4" stroke="#d6d6d6" stroke-width="0.9" fill="none"/>
<path d="M189.6 693.5V957.8" stroke="#3c3c3c" stroke-width="1.2" fill="none"/>
<path d="M528.4 693.5V957.8" stroke="#4a4a4a" stroke-width="1.4" fill="none"/>
<path d="M189.0 693.5H529.0" stroke="#333" stroke-width="1.3" fill="none"/>
<path d="M189.0 957.8H529.0" stroke="#333" stroke-width="1.3" fill="none"/>
<path d="M189.6 957.8v4.8M189.6 957.8h-3.8M238.0 957.8v4.8M189.6 920.0h-3.8M286.4 957.8v4.8M189.6 882.3h-3.8M334.8 957.8v4.8M189.6 844.5h-3.8M383.2 957.8v4.8M189.6 806.8h-3.8M431.6 957.8v4.8M189.6 769.0h-3.8M480.0 957.8v4.8M189.6 731.3h-3.8M528.4 957.8v4.8M189.6 693.5h-3.8" stroke="#3c3c3c" stroke-width="1.1" fill="none"/>
<text x="186.6" y="977.9" font-size="14.09" textLength="6.0" lengthAdjust="spacingAndGlyphs" text-anchor="start">0</text>
<text x="172.5" y="962.0" font-size="14.09" textLength="6.0" lengthAdjust="spacingAndGlyphs" text-anchor="start">0</text>
<text x="235.0" y="977.9" font-size="14.09" textLength="6.0" lengthAdjust="spacingAndGlyphs" text-anchor="start">5</text>
<text x="172.5" y="924.3" font-size="14.09" textLength="6.0" lengthAdjust="spacingAndGlyphs" text-anchor="start">5</text>
<text x="280.4" y="977.9" font-size="14.09" textLength="12.0" lengthAdjust="spacingAndGlyphs" text-anchor="start">10</text>
<text x="166.5" y="886.5" font-size="14.09" textLength="12.0" lengthAdjust="spacingAndGlyphs" text-anchor="start">10</text>
<text x="328.8" y="977.9" font-size="14.09" textLength="12.0" lengthAdjust="spacingAndGlyphs" text-anchor="start">15</text>
<text x="166.5" y="848.8" font-size="14.09" textLength="12.0" lengthAdjust="spacingAndGlyphs" text-anchor="start">15</text>
<text x="377.2" y="977.9" font-size="14.09" textLength="12.0" lengthAdjust="spacingAndGlyphs" text-anchor="start">20</text>
<text x="166.5" y="811.0" font-size="14.09" textLength="12.0" lengthAdjust="spacingAndGlyphs" text-anchor="start">20</text>
<text x="425.6" y="977.9" font-size="14.09" textLength="12.0" lengthAdjust="spacingAndGlyphs" text-anchor="start">25</text>
<text x="166.5" y="773.3" font-size="14.09" textLength="12.0" lengthAdjust="spacingAndGlyphs" text-anchor="start">25</text>
<text x="474.0" y="977.9" font-size="14.09" textLength="12.0" lengthAdjust="spacingAndGlyphs" text-anchor="start">30</text>
<text x="166.5" y="735.5" font-size="14.09" textLength="12.0" lengthAdjust="spacingAndGlyphs" text-anchor="start">30</text>
<text x="522.4" y="977.9" font-size="14.09" textLength="12.0" lengthAdjust="spacingAndGlyphs" text-anchor="start">35</text>
<text x="166.5" y="697.7" font-size="14.09" textLength="12.0" lengthAdjust="spacingAndGlyphs" text-anchor="start">35</text>
<text x="306.0" y="991.7" font-size="14.41" textLength="102.2" lengthAdjust="spacingAndGlyphs" text-anchor="start">Observed fc (MPa)</text>
<g transform="translate(160.6,881.7) rotate(-90) scale(1,0.87)"><text x="0.0" y="0.0" font-size="14.02" textLength="113.4" lengthAdjust="spacingAndGlyphs" text-anchor="start">Predicted fc (MPa)</text></g>
<text x="219.7" y="731.5" font-size="14.48" textLength="60.5" lengthAdjust="spacingAndGlyphs" text-anchor="start">R² = 0.9424</text>
<text x="489.5" y="939.7" font-size="14.21" textLength="14.7" lengthAdjust="spacingAndGlyphs" text-anchor="start">(e)</text>
<ellipse cx="341.1" cy="827.0" rx="3.2" ry="3.6"/>
<ellipse cx="329.7" cy="829.1" rx="3.2" ry="3.6"/>
<ellipse cx="320.4" cy="831.7" rx="3.2" ry="3.6"/>
<ellipse cx="340.2" cy="835.2" rx="3.2" ry="3.6"/>
<ellipse cx="314.0" cy="838.1" rx="3.2" ry="3.6"/>
<ellipse cx="342.8" cy="840.4" rx="3.2" ry="3.6"/>
<ellipse cx="327.0" cy="843.1" rx="3.2" ry="3.6"/>
<ellipse cx="331.1" cy="843.9" rx="3.2" ry="3.6"/>
<ellipse cx="337.9" cy="845.1" rx="3.2" ry="3.6"/>
<ellipse cx="349.0" cy="848.6" rx="3.2" ry="3.6"/>
<ellipse cx="323.5" cy="850.7" rx="3.2" ry="3.6"/>
<ellipse cx="330.0" cy="849.8" rx="3.2" ry="3.6"/>
<ellipse cx="335.2" cy="851.3" rx="3.2" ry="3.6"/>
<ellipse cx="306.3" cy="855.0" rx="3.2" ry="3.6"/>
<ellipse cx="317.1" cy="856.4" rx="3.2" ry="3.6"/>
<ellipse cx="326.5" cy="855.6" rx="3.2" ry="3.6"/>
<ellipse cx="306.0" cy="860.3" rx="3.2" ry="3.6"/>
<ellipse cx="322.7" cy="861.8" rx="3.2" ry="3.6"/>
<ellipse cx="328.8" cy="861.5" rx="3.2" ry="3.6"/>
<ellipse cx="328.8" cy="866.5" rx="3.2" ry="3.6"/>
<ellipse cx="296.1" cy="868.5" rx="3.2" ry="3.6"/>
<ellipse cx="333.8" cy="869.1" rx="3.2" ry="3.6"/>
<ellipse cx="304.6" cy="872.0" rx="3.2" ry="3.6"/>
<ellipse cx="298.4" cy="872.9" rx="3.2" ry="3.6"/>
<ellipse cx="318.1" cy="873.7" rx="3.2" ry="3.6"/>
<ellipse cx="392.6" cy="784.6" rx="3.2" ry="3.6"/>
<ellipse cx="394.6" cy="789.0" rx="3.2" ry="3.6"/>
<ellipse cx="374.8" cy="789.6" rx="3.2" ry="3.6"/>
<ellipse cx="384.1" cy="790.2" rx="3.2" ry="3.6"/>
<ellipse cx="405.5" cy="793.7" rx="3.2" ry="3.6"/>
<ellipse cx="391.1" cy="796.0" rx="3.2" ry="3.6"/>
<ellipse cx="397.6" cy="797.2" rx="3.2" ry="3.6"/>
<ellipse cx="386.5" cy="799.5" rx="3.2" ry="3.6"/>
<ellipse cx="395.2" cy="801.3" rx="3.2" ry="3.6"/>
<ellipse cx="357.5" cy="803.4" rx="3.2" ry="3.6"/>
<ellipse cx="374.8" cy="803.4" rx="3.2" ry="3.6"/>
<ellipse cx="380.6" cy="803.6" rx="3.2" ry="3.6"/>
<ellipse cx="389.4" cy="805.9" rx="3.2" ry="3.6"/>
<ellipse cx="395.8" cy="804.2" rx="3.2" ry="3.6"/>
<ellipse cx="399.9" cy="807.1" rx="3.2" ry="3.6"/>
<ellipse cx="385.9" cy="808.9" rx="3.2" ry="3.6"/>
<ellipse cx="383.5" cy="811.8" rx="3.2" ry="3.6"/>
<ellipse cx="389.1" cy="813.0" rx="3.2" ry="3.6"/>
<ellipse cx="382.6" cy="815.9" rx="3.2" ry="3.6"/>
<ellipse cx="358.2" cy="820.3" rx="3.2" ry="3.6"/>
<ellipse cx="394.4" cy="821.9" rx="3.2" ry="3.6"/>
<ellipse cx="370.7" cy="824.6" rx="3.2" ry="3.6"/>
<ellipse cx="376.3" cy="827.6" rx="3.2" ry="3.6"/>
<ellipse cx="391.7" cy="800.1" rx="3.2" ry="3.6"/>
<ellipse cx="496.9" cy="710.8" rx="3.2" ry="3.6"/>
<ellipse cx="494.6" cy="717.3" rx="3.2" ry="3.6"/>
<ellipse cx="485.8" cy="718.8" rx="3.2" ry="3.6"/>
<ellipse cx="470.3" cy="719.9" rx="3.2" ry="3.6"/>
<ellipse cx="473.4" cy="719.9" rx="3.2" ry="3.6"/>
<ellipse cx="468.3" cy="724.3" rx="3.2" ry="3.6"/>
<ellipse cx="474.1" cy="726.0" rx="3.2" ry="3.6"/>
<ellipse cx="457.1" cy="726.0" rx="3.2" ry="3.6"/>
<ellipse cx="486.4" cy="725.8" rx="3.2" ry="3.6"/>
<ellipse cx="493.6" cy="728.9" rx="3.2" ry="3.6"/>
<ellipse cx="461.5" cy="729.8" rx="3.2" ry="3.6"/>
<ellipse cx="474.1" cy="731.6" rx="3.2" ry="3.6"/>
<ellipse cx="456.6" cy="732.4" rx="3.2" ry="3.6"/>
<ellipse cx="485.1" cy="735.1" rx="3.2" ry="3.6"/>
<ellipse cx="459.8" cy="736.5" rx="3.2" ry="3.6"/>
<ellipse cx="464.8" cy="737.1" rx="3.2" ry="3.6"/>
<ellipse cx="468.5" cy="737.5" rx="3.2" ry="3.6"/>
<ellipse cx="484.3" cy="739.5" rx="3.2" ry="3.6"/>
<ellipse cx="477.1" cy="742.1" rx="3.2" ry="3.6"/>
<ellipse cx="446.4" cy="743.9" rx="3.2" ry="3.6"/>
<ellipse cx="465.6" cy="745.1" rx="3.2" ry="3.6"/>
<ellipse cx="455.9" cy="749.1" rx="3.2" ry="3.6"/>
<ellipse cx="448.1" cy="750.3" rx="3.2" ry="3.6"/>
<ellipse cx="444.6" cy="752.9" rx="3.2" ry="3.6"/>
<ellipse cx="472.3" cy="752.9" rx="3.2" ry="3.6"/>
<ellipse cx="497.7" cy="757.0" rx="3.2" ry="3.6"/>
<ellipse cx="432.3" cy="758.1" rx="3.2" ry="3.6"/>
<ellipse cx="441.7" cy="759.7" rx="3.2" ry="3.6"/>
<ellipse cx="467.6" cy="762.2" rx="3.2" ry="3.6"/>
<ellipse cx="431.8" cy="762.2" rx="3.2" ry="3.6"/>
<ellipse cx="453.3" cy="766.8" rx="3.2" ry="3.6"/>
<ellipse cx="448.9" cy="770.7" rx="3.2" ry="3.6"/>
<path d="M189.6 957.8L528.4 693.5" stroke="#111" stroke-width="2" fill="none"/></g>
</svg>
</body></html>
